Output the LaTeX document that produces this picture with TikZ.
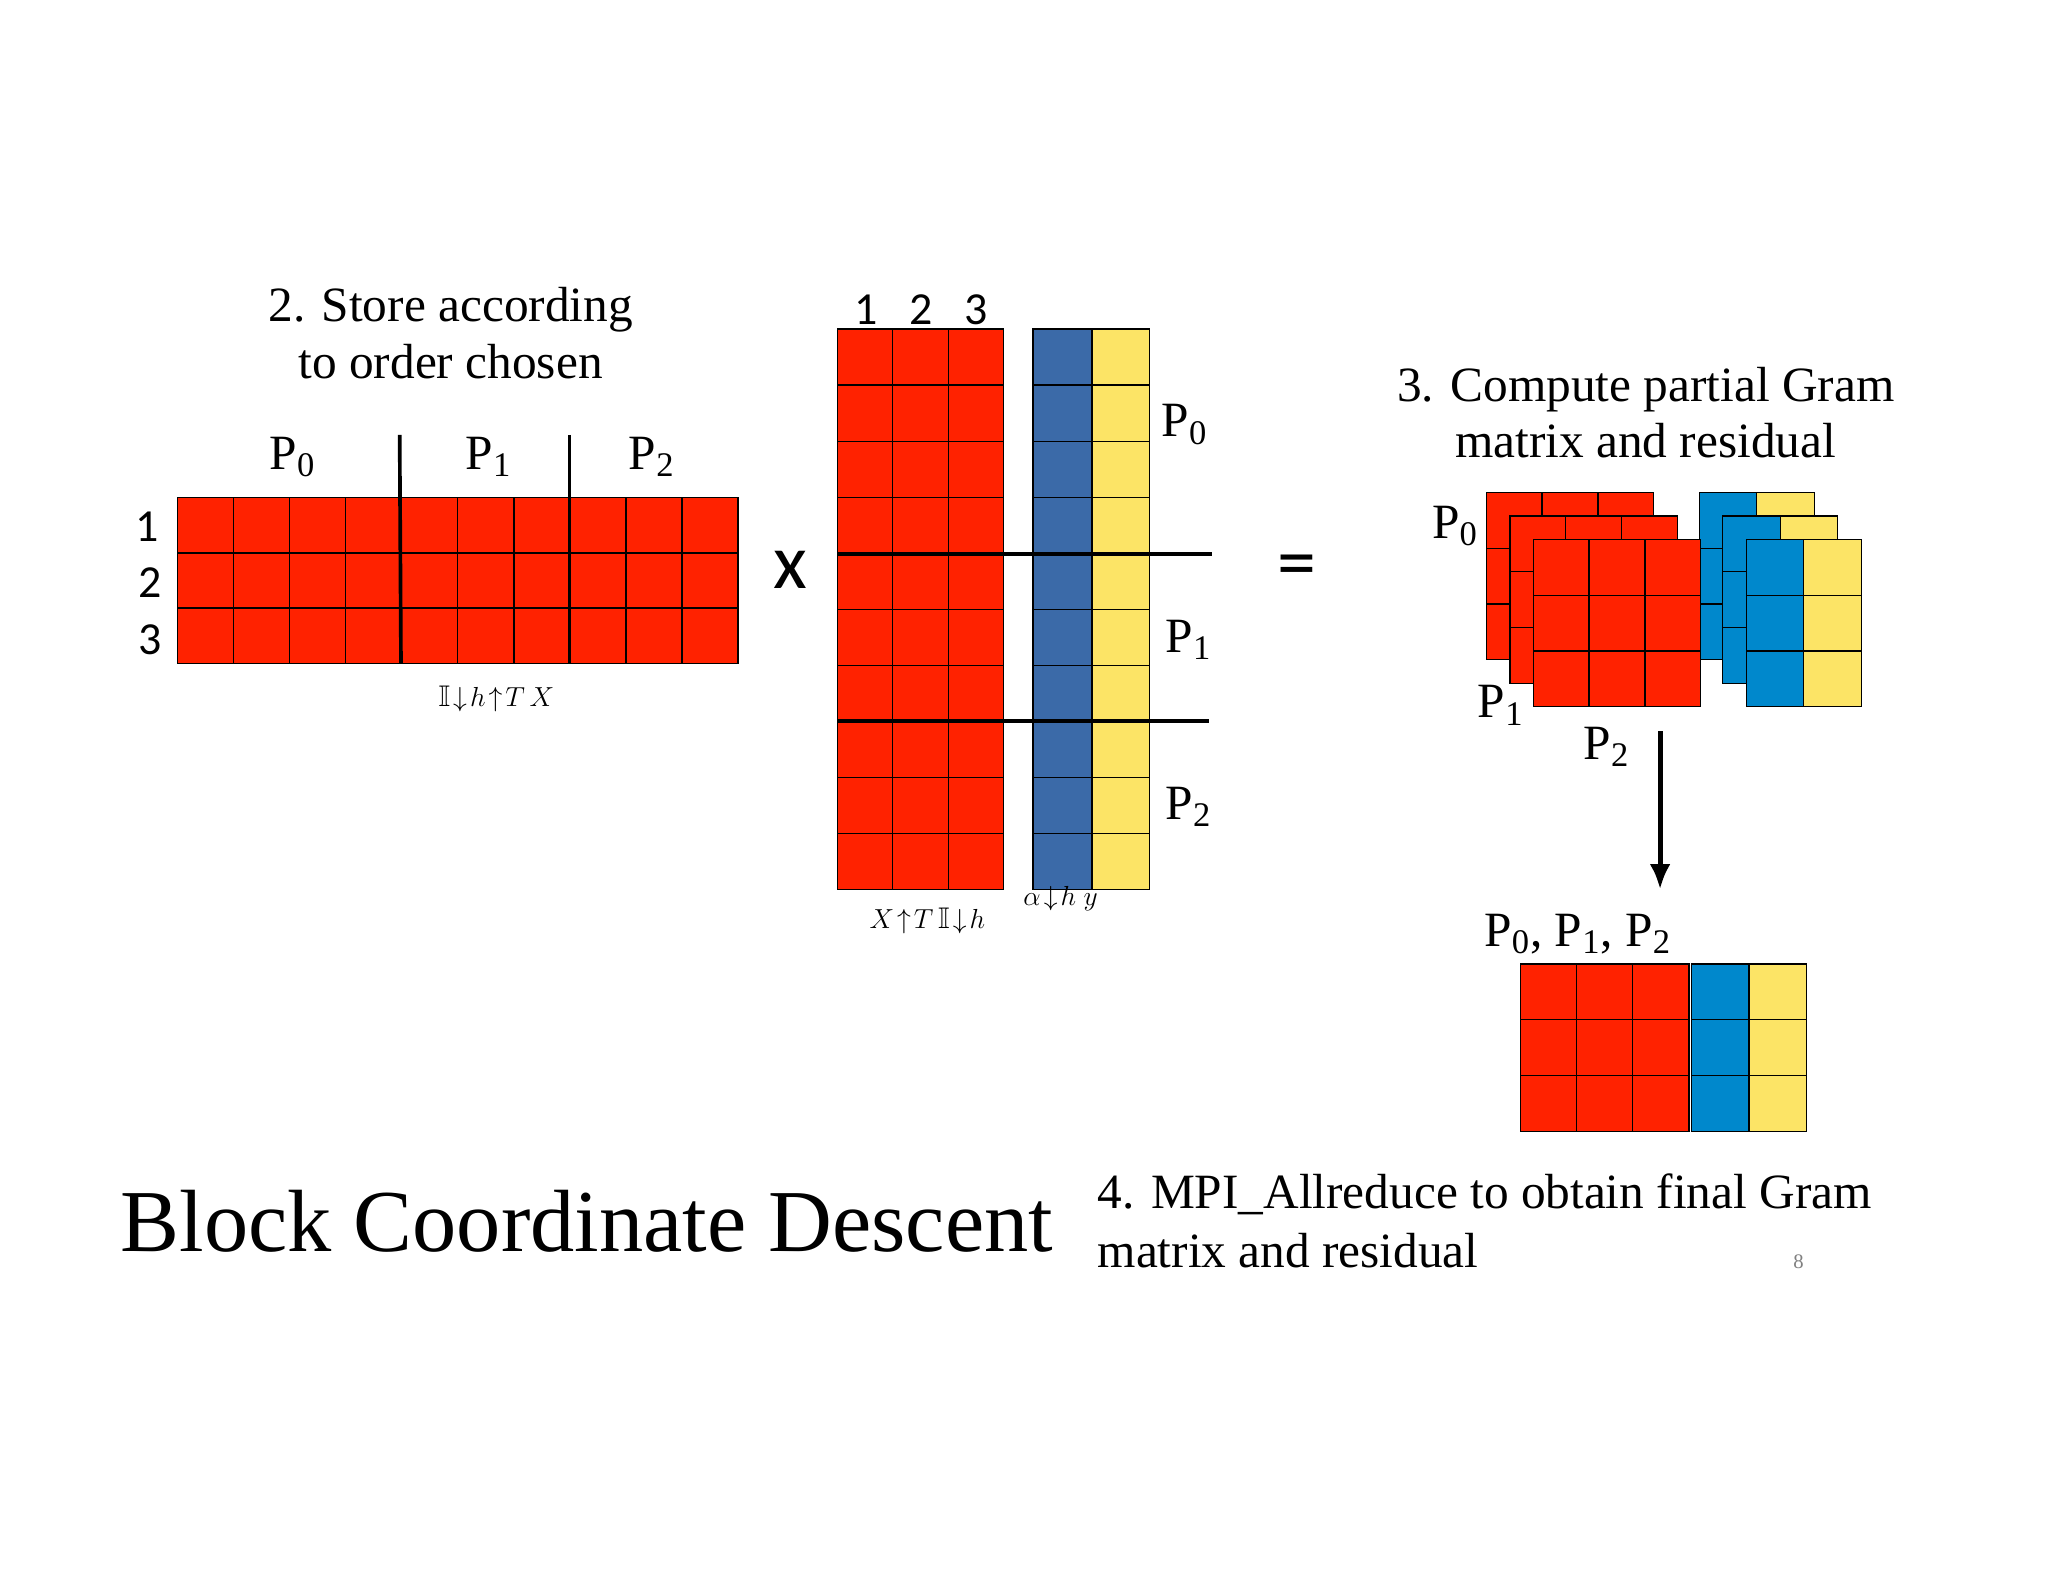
\documentclass[tikz,border=0pt]{standalone}
\usepackage{amssymb}
\usepackage{fontspec}
\usetikzlibrary{arrows.meta}
\setmainfont{Liberation Serif}
\newfontfamily\sansf{Carlito}
\begin{document}
\begin{tikzpicture}[x=0.02cm,y=-0.02cm,
  cell/.style={draw=black,line width=0.6pt},
  lab/.style={font=\fontsize{21.5}{24.5}\selectfont,inner sep=0pt},
  num/.style={font=\sansf\fontsize{20}{22}\selectfont,inner sep=0pt},
  sep/.style={line width=1.6pt},
  tiny/.style={font=\fontsize{13}{14}\selectfont\itshape,inner sep=0pt}]
\definecolor{rd}{RGB}{255,34,0}
\definecolor{bs}{RGB}{59,106,168}
\definecolor{bb}{RGB}{0,136,204}
\definecolor{yl}{RGB}{252,228,102}
% \mygrid{x0}{y0}{cols}{rows}{w}{h}{color}
\newcommand\mygrid[7]{%
  \foreach \i in {1,...,#3}{\foreach \j in {1,...,#4}{%
    \filldraw[cell,fill=#7] ({#1+(\i-1)*#5},{#2+(\j-1)*#6}) rectangle ++(#5,#6);}}}
\useasboundingbox[fill=white] (0,0) rectangle (1568,1211);
% left
\node[lab,align=center] (t2) at (345,255) {2. Store according\\to order chosen};
\mygrid{136}{381}{10}{3}{42.9}{42.3}{rd}
\draw[sep] (306,333) -- (307,508);
\draw[sep] (436,333) -- (436,508);
\node[lab] (lp0) at (224,350) {P\textsubscript{0}};
\node[lab] (lp1) at (374,350) {P\textsubscript{1}};
\node[lab] (lp2) at (499,350) {P\textsubscript{2}};
\node[num] (r1) at (113,403) {1};
\node[num] (r2) at (115,446) {2};
\node[num] (r3) at (115,490) {3};
\node[tiny] (ml) at (380,535) {$\mathbb{I}\!\downarrow\! h\!\uparrow\! T\, X$};
\node[font=\sansf\fontsize{34}{36}\selectfont,inner sep=0pt] (x) at (605,436) {x};
% middle
\mygrid{641}{252}{3}{10}{42.5}{42.9}{rd}
\foreach \j in {1,...,10}{\filldraw[cell,fill=bs] (791,{252+(\j-1)*42.9}) rectangle ++(45,42.9);
  \filldraw[cell,fill=yl] (836,{252+(\j-1)*42.9}) rectangle ++(44,42.9);}
\node[num] (c1) at (663,237) {1};
\node[num] (c2) at (705,237) {2};
\node[num] (c3) at (747,237) {3};
\draw[sep] (641,424) -- (928,424);
\draw[sep] (641,552) -- (926,552);
\node[lab] (mp0) at (907,325) {P\textsubscript{0}};
\node[lab] (mp1) at (910,490) {P\textsubscript{1}};
\node[lab] (mp2) at (910,618) {P\textsubscript{2}};
\node[tiny] (xl) at (710,705) {$X\!\uparrow\! T\,\mathbb{I}\!\downarrow\! h$};
\node[tiny] (al) at (812,688) {$\alpha\!\downarrow\! h\ y$};
\node[font=\sansf\fontsize{34}{36}\selectfont,inner sep=0pt] (eq) at (993,438) {=};
% right
\node[lab,align=center] (t3) at (1260,316) {3. Compute partial Gram\\matrix and residual};
\foreach \o in {0,18,36}{
  \mygrid{1138+\o}{377+\o}{3}{3}{42.7}{42.7}{rd}
  \foreach \j in {1,2,3}{\filldraw[cell,fill=bb] ({1301+\o},{377+\o+(\j-1)*42.7}) rectangle ++(44,42.7);
    \filldraw[cell,fill=yl] ({1345+\o},{377+\o+(\j-1)*42.7}) rectangle ++(44,42.7);}
}
\node[lab] (sp0) at (1114,403) {P\textsubscript{0}};
\node[lab] (sp1) at (1149,540) {P\textsubscript{1}};
\node[lab] (sp2) at (1230,572) {P\textsubscript{2}};
\coordinate (a1) at (1271,560);
\coordinate (a2) at (1271,681);
\draw[line width=2.2pt,-{Latex[length=11pt,width=9pt]}] (a1) -- (a2);
\node[lab] (fp) at (1208,715) {P\textsubscript{0}, P\textsubscript{1}, P\textsubscript{2}};
\mygrid{1164}{738}{3}{3}{43}{42.7}{rd}
\foreach \j in {1,2,3}{\filldraw[cell,fill=bb] (1295,{738+(\j-1)*42.7}) rectangle ++(44,42.7);
  \filldraw[cell,fill=yl] (1339,{738+(\j-1)*42.7}) rectangle ++(44,42.7);}
% bottom
\node[anchor=west,font=\fontsize{38.5}{40}\selectfont,inner sep=0pt] (title) at (92,935) {Block Coordinate Descent};
\node[anchor=north west,align=left,font=\fontsize{21.5}{26}\selectfont,inner sep=0pt] (t4) at (840,898) {4. MPI\_Allreduce to obtain final Gram\\matrix and residual};
\node[font=\fontsize{9}{10}\selectfont,text=gray,inner sep=0pt] (pg) at (1377,966) {8};
\end{tikzpicture}
\end{document}
